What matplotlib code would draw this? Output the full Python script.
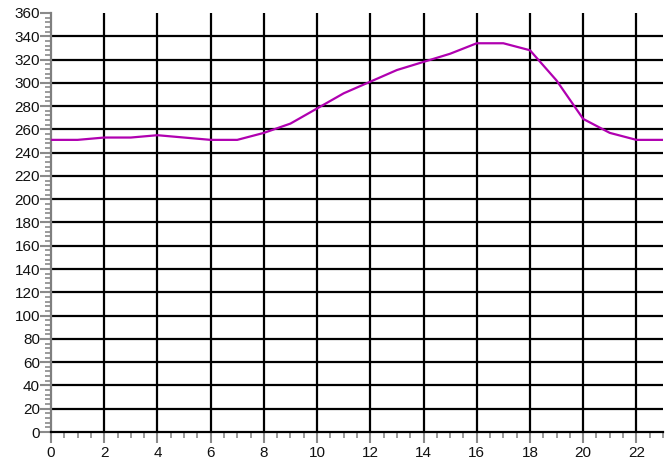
import matplotlib
matplotlib.use("Agg")
import matplotlib.pyplot as plt
from matplotlib.ticker import MultipleLocator

# hourly values
hours = list(range(24))
values = [251, 251, 253, 253, 255, 253, 251, 251, 257, 265, 278, 291,
          301, 311, 318, 325, 334, 334, 328, 302, 269, 257, 251, 251]

x_ticks = list(range(0, 23, 2))
y_ticks = list(range(0, 361, 20))

plt.rcParams['font.family'] = ['Liberation Sans', 'DejaVu Sans']

fig = plt.figure(figsize=(6.72, 4.65), dpi=100)
ax = fig.add_axes([51 / 672, 1 - 432 / 465, 612 / 672, 419 / 465])

ax.set_xlim(0, 23)
ax.set_ylim(0, 360)
ax.set_xticks(x_ticks)
ax.set_yticks(y_ticks)
ax.xaxis.set_minor_locator(MultipleLocator(0.5))
ax.yaxis.set_minor_locator(MultipleLocator(4))

# grid
ax.grid(True, which='major', color='black', linewidth=1.6)
ax.set_axisbelow(True)
ax.yaxis.get_gridlines()[-1].set_visible(False)
ax.yaxis.get_gridlines()[0].set_visible(False)
ax.xaxis.get_gridlines()[0].set_visible(False)

# spines
for s in ['top', 'right']:
    ax.spines[s].set_visible(False)
ax.spines['left'].set_color('#7f7f7f')
ax.spines['left'].set_linewidth(1.6)
ax.spines['bottom'].set_color('black')
ax.spines['bottom'].set_linewidth(1.6)

ax.tick_params(axis='both', which='major', color='#8a8a8a', width=1.5,
               labelsize=11, labelcolor='#111111')
ax.tick_params(axis='x', which='major', length=8, pad=2)
ax.tick_params(axis='x', which='minor', length=4, width=1.2, color='#8a8a8a')
ax.tick_params(axis='y', which='major', length=8, pad=0)
ax.tick_params(axis='y', which='minor', length=4, width=1.2, color='#8a8a8a')

ax.plot(hours, values, color='#b000b0', linewidth=1.6, zorder=5)

fig.savefig("out.png", dpi=100)
